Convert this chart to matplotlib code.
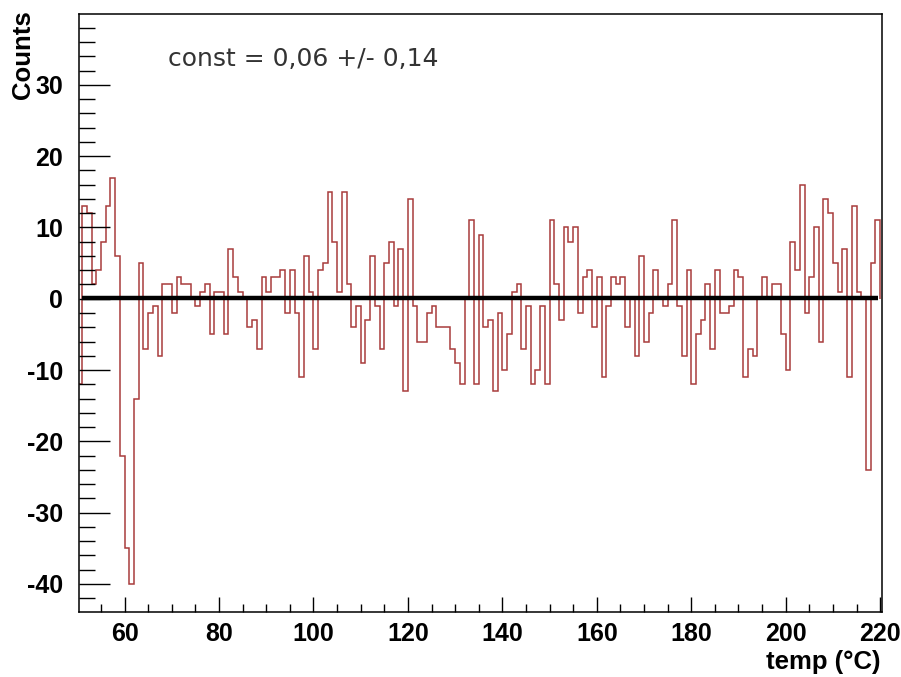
import matplotlib.pyplot as plt
from matplotlib.ticker import MultipleLocator
from matplotlib import font_manager
import numpy as np

plt.rcParams['font.family'] = ['Liberation Sans', 'DejaVu Sans']
plt.rcParams['font.stretch'] = 'normal'
plt.rcParams['axes.unicode_minus'] = False

# bin edges, 1 degC wide, 50..220
edges = np.arange(50, 221)
counts = [
    -12, 13, 12, 2, 4, 8, 13, 17, 6, -22,        # 50-59
    -35, -40, -14, 5, -7, -2, -1, -8, 2, 2,      # 60-69
    -2, 3, 2, 2, 0, -1, 1, 2, -5, 1,             # 70-79
    1, -5, 7, 3, 1, 0, -4, -3, -7, 3,            # 80-89
    1, 3, 3, 4, -2, 4, -2, -11, 6, 1,            # 90-99
    -7, 4, 5, 15, 8, 1, 15, 2, -4, -1,           # 100-109
    -9, -3, 6, -1, -7, 5, 8, -1, 7, -13,         # 110-119
    14, -1, -6, -6, -2, -1, -4, -4, -4, -7,      # 120-129
    -9, -12, 0, 11, -12, 9, -4, -3, -13, -2,     # 130-139
    -10, -5, 1, 2, -7, -1, -12, -10, -1, -12,    # 140-149
    11, 2, -3, 10, 8, 10, -2, 3, 4, -4,          # 150-159
    3, -11, -1, 3, 2, 3, -4, 0, -8, 6,           # 160-169
    -6, -2, 4, 0, -1, 2, 11, -1, -8, 4,          # 170-179
    -12, -5, -3, 2, -7, 4, -2, -2, -1, 4,        # 180-189
    3, -11, -7, -8, 0, 3, 0, 2, 2, -5,           # 190-199
    -10, 8, 4, 16, -2, 3, 10, -6, 14, 12,        # 200-209
    5, 1, 7, -11, 13, 1, 0, -24, 5, 11,          # 210-219
]

fit_const = 0.06
fit_err = 0.14
fit_range = [51, 219.5]

# bold sans with normal width (avoid the narrow variant)
bold = font_manager.FontProperties(family='Liberation Sans', weight='bold',
                                   stretch='normal', size=18)
bold_lab = bold.copy()
bold_lab.set_size(18.5)

fig = plt.figure(figsize=(9.01, 6.77), dpi=100)
ax = fig.add_axes([79 / 901, 65 / 677, 803 / 901, 598 / 677])

ax.stairs(counts, edges, color='#a83c3c', lw=1.1, baseline=0)
ax.plot(fit_range, [fit_const, fit_const], color='black', lw=3.2,
        solid_capstyle='butt')

ax.set_xlim(50.35, 220.4)
ax.set_ylim(-43.95, 39.95)

ax.xaxis.set_major_locator(MultipleLocator(20))
ax.xaxis.set_minor_locator(MultipleLocator(5))
ax.yaxis.set_major_locator(MultipleLocator(10))
ax.yaxis.set_minor_locator(MultipleLocator(2))

ax.tick_params(axis='x', which='major', direction='in', length=10.8, width=1,
               pad=7.5)
ax.tick_params(axis='x', which='minor', direction='in', length=5.8, width=1)
ax.tick_params(axis='y', which='major', direction='in', length=22.3, width=1,
               pad=11.5)
ax.tick_params(axis='y', which='minor', direction='in', length=11.5, width=1)
for lab in ax.get_xticklabels() + ax.get_yticklabels():
    lab.set_fontproperties(bold)

for sp in ax.spines.values():
    sp.set_linewidth(1.1)

fig.text(23 / 901, 1 - 10 / 677, 'Counts', rotation=90, ha='center', va='top',
         fontproperties=bold_lab)
fig.text(880 / 901, 1 - 662 / 677, 'temp (°C)', ha='right', va='center',
         fontproperties=bold_lab)

txt = 'const = %s +/- %s' % (f'{fit_const:.2f}'.replace('.', ','),
                              f'{fit_err:.2f}'.replace('.', ','))
fig.text(168 / 901, 1 - 59 / 677, txt, ha='left', va='center',
         fontsize=18, color='#333333', family='DejaVu Sans')

fig.savefig('out.png', dpi=100)
